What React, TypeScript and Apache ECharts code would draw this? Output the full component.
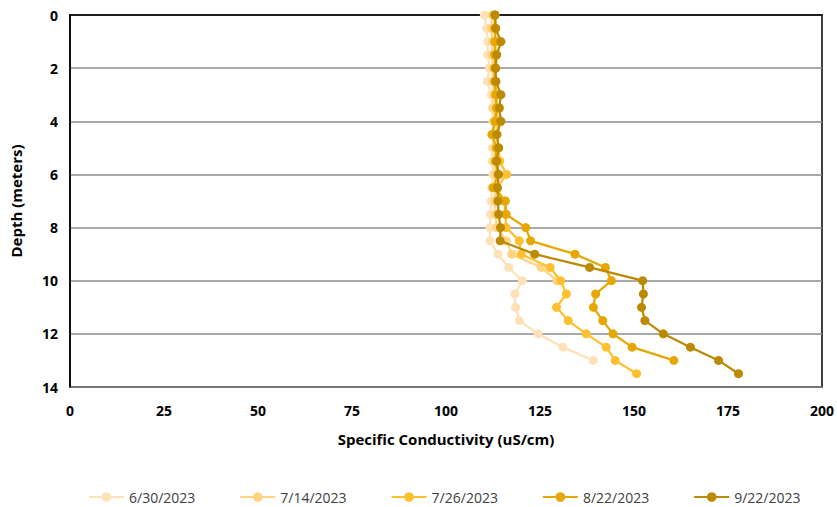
import React, { useEffect, useRef } from "react";
import * as echarts from "echarts";

const depths = [0, 0.5, 1, 1.5, 2, 2.5, 3, 3.5, 4, 4.5, 5, 5.5, 6, 6.5, 7, 7.5, 8, 8.5, 9, 9.5, 10, 10.5, 11, 11.5, 12, 12.5, 13, 13.5];

const seriesNames = ["6/30/2023", "7/14/2023", "7/26/2023", "8/22/2023", "9/22/2023"];
const seriesColors = ["#FFE1B8", "#FFD37F", "#FFC030", "#E6A700", "#BB8A00"];

const cond0630 = [110.2, 110.8, 111.1, 111.1, 111.5, 111.0, 112.0, 112.3, 112.5, 112.5, 112.3, 112.3, 112.5, 112.2, 112.0, 111.8, 111.7, 111.7, 113.8, 116.7, 120.3, 118.3, 118.5, 119.5, 124.5, 131.1, 139.2];
const cond0714 = [112.3, 112.0, 112.4, 112.2, 112.5, 112.4, 112.8, 112.6, 113.0, 112.8, 113.0, 112.8, 113.2, 113.0, 113.0, 113.2, 113.5, 116.0, 117.5, 125.3, 129.5];
const cond0726 = [113.0, 112.8, 113.3, 113.0, 113.2, 113.0, 113.5, 113.4, 113.8, 113.6, 114.0, 114.3, 116.1, 113.5, 115.5, 115.8, 116.0, 119.5, 120.0, 127.7, 130.5, 132.0, 129.4, 132.5, 137.3, 142.6, 145.0, 150.7];
const cond0822 = [113.0, 113.2, 113.0, 113.0, 113.0, 113.0, 113.2, 113.5, 113.0, 112.2, 113.4, 113.2, 113.9, 112.5, 115.8, 116.0, 121.2, 122.5, 134.3, 142.4, 144.0, 139.8, 139.2, 141.7, 144.4, 149.5, 160.6];
const cond0922 = [113.0, 113.2, 114.6, 113.5, 113.2, 113.3, 114.6, 114.2, 114.6, 113.5, 114.0, 113.5, 114.0, 113.7, 113.8, 114.0, 114.5, 114.4, 123.6, 138.2, 152.3, 152.5, 152.0, 152.9, 157.8, 165.0, 172.5, 177.8];

const allCond = [cond0630, cond0714, cond0726, cond0822, cond0922];

const FONT = "'Open Sans', 'Liberation Sans', sans-serif";

export default function App() {
  const ref = useRef<HTMLDivElement>(null);
  useEffect(() => {
    if (!ref.current) return;
    const chart = echarts.init(ref.current, null, { renderer: "svg" });
    const series = allCond.map((vals, i) => ({
      name: seriesNames[i],
      type: "line",
      data: vals.map((v, j) => [v, depths[j]]),
      symbol: "circle",
      symbolSize: 9,
      showSymbol: true,
      lineStyle: { color: seriesColors[i], width: 2.25 },
      itemStyle: { color: seriesColors[i] },
      z: 2 + i,
    }));
    chart.setOption({
      animation: false,
      backgroundColor: "#ffffff",
      grid: {
        left: 66,
        right: 15,
        top: 15,
        bottom: 120,
        show: true,
        borderColor: "#000000",
        borderWidth: 1.5,
        backgroundColor: "transparent",
      },
      legend: {
        data: seriesNames,
        left: 83,
        top: 485,
        itemWidth: 35,
        itemHeight: 12,
        itemGap: 44,
        textStyle: { fontFamily: FONT, fontSize: 14, color: "#404040" },
      },
      xAxis: {
        type: "value",
        min: 0,
        max: 200,
        interval: 25,
        name: "Specific Conductivity (uS/cm)",
        nameLocation: "middle",
        nameGap: 44,
        nameTextStyle: { fontFamily: FONT, fontSize: 15, fontWeight: "bold", color: "#000" },
        axisLine: { show: true, lineStyle: { color: "#000", width: 1.5 } },
        axisTick: { show: false },
        splitLine: { show: false },
        axisLabel: { fontFamily: FONT, fontSize: 14, fontWeight: "bold", color: "#000", margin: 16 },
      },
      yAxis: {
        type: "value",
        inverse: true,
        min: 0,
        max: 14,
        interval: 2,
        name: "Depth (meters)",
        nameLocation: "middle",
        nameGap: 47,
        nameTextStyle: { fontFamily: FONT, fontSize: 15, fontWeight: "bold", color: "#000" },
        axisLine: { show: true, lineStyle: { color: "#000", width: 1.5 } },
        axisTick: { show: false },
        splitLine: { show: true, lineStyle: { color: "#8c8c8c", width: 1.5 } },
        axisLabel: { fontFamily: FONT, fontSize: 14, fontWeight: "bold", color: "#000", margin: 12 },
      },
      series,
    });
    return () => chart.dispose();
  }, []);
  return <div ref={ref} style={{ width: 837, height: 507, position: "absolute", left: 0, top: 0 }} />;
}
